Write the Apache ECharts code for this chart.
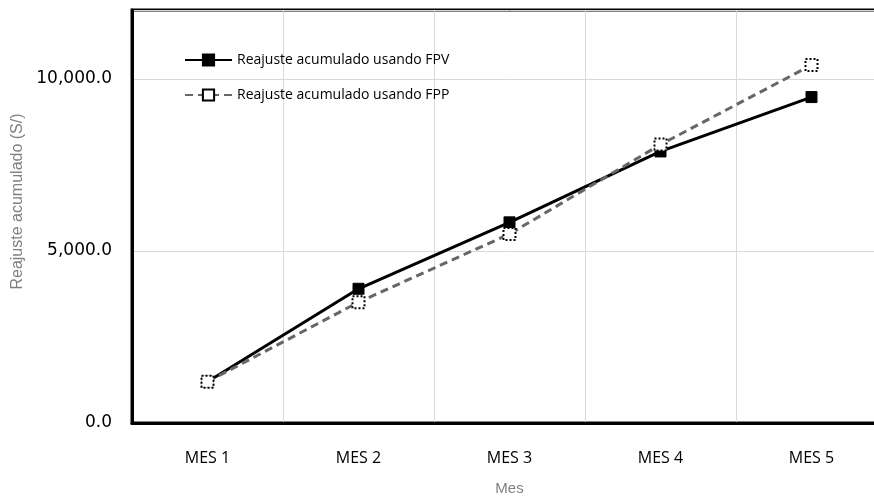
<!DOCTYPE html>
<html><head><meta charset="utf-8">
<script src="https://cdn.jsdelivr.net/npm/echarts@6/dist/echarts.min.js"></script>
<style>html,body{margin:0;padding:0;background:#fff;overflow:hidden;width:874px;height:501px}#c{width:900px;height:501px}</style>
</head><body><div id="c"></div>
<script>
const categories = ['MES 1', 'MES 2', 'MES 3', 'MES 4', 'MES 5'];
const fpv = [1200, 3900, 5830, 7890, 9470];
const fpp = [1200, 3510, 5490, 8090, 10400];
const seriesNames = ['Reajuste acumulado usando FPV', 'Reajuste acumulado usando FPP'];
const yTicks = [0, 5000, 10000];

const chart = echarts.init(document.getElementById('c'));
chart.setOption({
  animation: false,
  grid: { left: 132, top: 10, width: 755, height: 419, show: true, borderColor: '#000', borderWidth: 3, backgroundColor: 'transparent' },
  legend: {
    orient: 'vertical', left: 179, top: 48, itemGap: 21, itemWidth: 47, itemHeight: 14,
    textStyle: { fontFamily: 'Liberation Sans Narrow, Open Sans, sans-serif', fontSize: 14, color: '#000' },
    data: seriesNames
  },
  xAxis: {
    type: 'category', data: categories, boundaryGap: true,
    name: 'Mes', nameLocation: 'middle', nameGap: 58,
    nameTextStyle: { color: '#808080', fontSize: 15, fontFamily: 'Liberation Sans, Arial, sans-serif' },
    axisLine: { lineStyle: { color: '#000', width: 3 } },
    axisTick: { show: false },
    axisLabel: { color: '#000', fontSize: 16, margin: 27, fontFamily: 'Liberation Sans Narrow, Open Sans, sans-serif' },
    splitLine: { show: true, lineStyle: { color: '#d9d9d9', width: 1 } }
  },
  yAxis: {
    type: 'value', min: 0, max: 12000, interval: 5000,
    name: 'Reajuste acumulado (S/)', nameLocation: 'middle', nameGap: 103, nameRotate: 90,
    nameTextStyle: { color: '#808080', fontSize: 16, fontFamily: 'Liberation Sans, Arial, sans-serif', padding: [0, 0, 0, 30] },
    axisLine: { show: true, lineStyle: { color: '#000', width: 3 } },
    axisTick: { show: false },
    axisLabel: {
      color: '#000', fontSize: 17, margin: 20, fontFamily: 'DejaVu Sans, sans-serif', padding: [0, 0, 0, 0],
      formatter: v => yTicks.includes(v) ? v.toLocaleString('en-US', { minimumFractionDigits: 1, maximumFractionDigits: 1 }) : ''
    },
    splitLine: { show: true, lineStyle: { color: '#d9d9d9', width: 1 } }
  },
  series: [
    {
      name: seriesNames[0], type: 'line', data: fpv,
      symbol: 'rect', symbolSize: 11,
      lineStyle: { color: '#000', width: 3 },
      itemStyle: { color: '#000', borderColor: '#000', borderWidth: 1 }
    },
    {
      name: seriesNames[1], type: 'line', data: fpp,
      symbol: 'rect', symbolSize: 12,
      lineStyle: { color: '#666', width: 3, type: [8, 5] },
      itemStyle: { color: '#fff', borderColor: '#000', borderWidth: 2, borderType: [2, 2] }
    }
  ]
});
</script></body></html>
